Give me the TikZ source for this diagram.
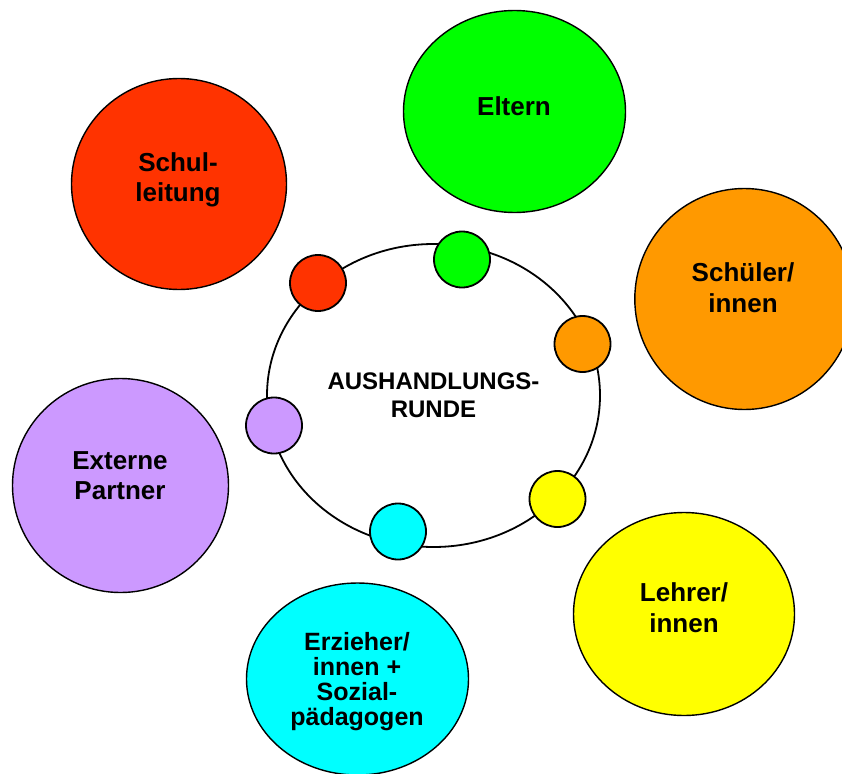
\documentclass[tikz,border=0pt]{standalone}
\usepackage{fontspec}
\setmainfont{Liberation Sans}
\usetikzlibrary{shapes.geometric}
\definecolor{cRed}{HTML}{FF3300}
\definecolor{cGreen}{HTML}{00FF00}
\definecolor{cOrange}{HTML}{FF9900}
\definecolor{cPurple}{HTML}{CC99FF}
\definecolor{cCyan}{HTML}{00FFFF}
\definecolor{cYellow}{HTML}{FFFF00}
\begin{document}
\begin{tikzpicture}[x=1pt,y=-1pt,
  bigc/.style={ellipse, draw=black, line width=1.4pt, inner sep=0pt},
  ring/.style={ellipse, draw=black, line width=1.8pt, inner sep=0pt, minimum width=333pt, minimum height=303pt},
  smallc/.style={circle, draw=black, line width=1.8pt, minimum size=56pt, inner sep=0pt},
  lbl/.style={font=\bfseries\fontsize{26}{30.5}\selectfont, align=center, inner sep=0pt},
  lblS/.style={font=\bfseries\fontsize{25}{25}\selectfont, align=center, inner sep=0pt},
  lblC/.style={font=\bfseries\fontsize{24}{28.4}\selectfont, align=center, inner sep=0pt}]
\useasboundingbox (0,0) rectangle (842,773);
% big outer circles
\node[bigc, fill=cRed, minimum width=215pt, minimum height=211pt] (schul) at (179,184) {};
\node[bigc, fill=cGreen, minimum width=222pt, minimum height=202pt] (eltern) at (514.5,111.5) {};
\node[bigc, fill=cOrange, minimum width=219pt, minimum height=221pt] (schueler) at (744.3,299) {};
\node[bigc, fill=cPurple, minimum width=216pt, minimum height=214pt] (extern) at (120.5,485.5) {};
\node[bigc, fill=cYellow, minimum width=221pt, minimum height=203pt] (lehrer) at (684,614) {};
\node[bigc, fill=cCyan, minimum width=222pt, minimum height=192pt] (erzieher) at (357.5,679) {};
% labels
\node[lbl] (tSchul) at (178,180) {Schul-\\leitung};
\node[lbl] (tEltern) at (514,106.5) {Eltern};
\node[lbl] (tSchueler) at (743,287.5) {Schüler/\\innen};
\node[lbl] (tExtern) at (120,475.5) {Externe\\Partner};
\node[lbl] (tLehrer) at (684,607.5) {Lehrer/\\innen};
\node[lblS] (tErzieher) at (357,682) {Erzieher/\\innen +\\Sozial-\\pädagogen};
% central ring
\node[ring] (runde) at (433.5,395.5) {};
\node[lblC] (tRunde) at (433.5,395.5) {AUSHANDLUNGS-\\RUNDE};
% small circles
\node[smallc, fill=cRed] (sRed) at (318,283) {};
\node[smallc, fill=cGreen] (sGreen) at (462,259.5) {};
\node[smallc, fill=cOrange] (sOrange) at (582.5,344) {};
\node[smallc, fill=cPurple] (sPurple) at (274,425.5) {};
\node[smallc, fill=cYellow] (sYellow) at (557.5,499) {};
\node[smallc, fill=cCyan] (sCyan) at (398,531.5) {};
\end{tikzpicture}
\end{document}
